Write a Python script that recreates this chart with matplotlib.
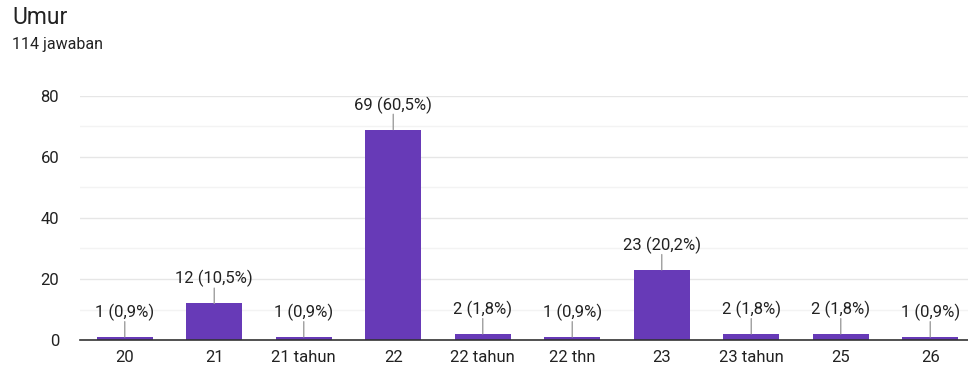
import matplotlib.pyplot as plt
import numpy as np

plt.rcParams["font.family"] = ["Roboto", "DejaVu Sans"]

TITLE = "Umur"
SUBTITLE = "114 jawaban"
categories = ["20", "21", "21 tahun", "22", "22 tahun", "22 thn", "23", "23 tahun", "25", "26"]
counts = [1, 12, 1, 69, 2, 1, 23, 2, 2, 1]
percents = ["0,9", "10,5", "0,9", "60,5", "1,8", "0,9", "20,2", "1,8", "1,8", "0,9"]
y_ticks = [0, 20, 40, 60, 80]

BAR_COLOR = "#673ab7"
TEXT_COLOR = "#222222"
W, H = 968, 370

fig = plt.figure(figsize=(W / 100, H / 100), dpi=100)
# axes extends slightly past the right edge, like the cropped screenshot
ax = fig.add_axes([80 / W, 1 - 340 / H, 895 / W, 244 / H])

x = np.arange(len(categories))
ax.bar(x, counts, width=0.63, color=BAR_COLOR, zorder=3)

ax.set_xlim(-0.5, len(categories) - 0.5)
ax.set_ylim(0, 80)
ax.set_yticks(y_ticks)
ax.set_yticks([10, 30, 50, 70], minor=True)
ax.grid(axis="y", which="major", color="#e6e6e6", linewidth=1, zorder=0)
ax.grid(axis="y", which="minor", color="#f3f3f3", linewidth=1, zorder=0)
ax.set_xticks(x)
ax.set_xticklabels(categories)
ax.tick_params(axis="both", which="both", length=0, labelsize=12, colors=TEXT_COLOR)
ax.tick_params(axis="y", pad=15)
ax.tick_params(axis="x", pad=7)

for side in ["top", "right", "left"]:
    ax.spines[side].set_visible(False)
ax.spines["bottom"].set_color("#333333")
ax.spines["bottom"].set_linewidth(1.2)
ax.spines["bottom"].set_zorder(4)

# value labels with small leader lines
for xi, c, p in zip(x, counts, percents):
    ax.annotate(
        "",
        xy=(xi, c),
        xytext=(0, 11),
        textcoords="offset points",
        arrowprops=dict(arrowstyle="-", color="#9e9e9e", lw=1, shrinkA=0, shrinkB=0),
        zorder=4,
    )
    ax.annotate(
        f"{c} ({p}%)",
        xy=(xi, c),
        xytext=(0, 11.5),
        textcoords="offset points",
        ha="center",
        va="bottom",
        fontsize=12,
        color=TEXT_COLOR,
    )

fig.text(12 / W, 1 - 17 / H, TITLE, fontsize=16.5, color=TEXT_COLOR, va="center", ha="left")
fig.text(12 / W, 1 - 44 / H, SUBTITLE, fontsize=11.5, color=TEXT_COLOR, va="center", ha="left")

fig.savefig("out.png", dpi=100)
